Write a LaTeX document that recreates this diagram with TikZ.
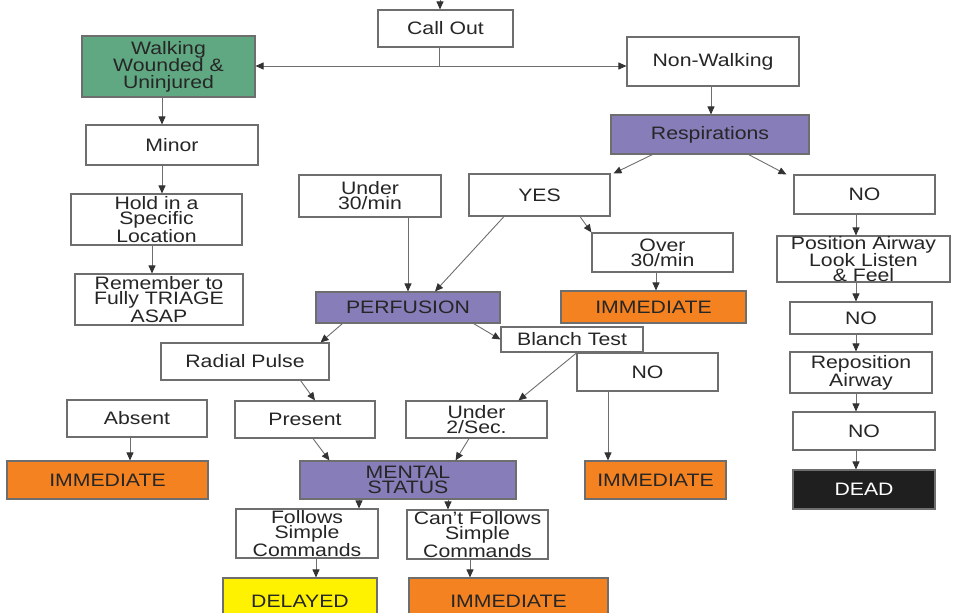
\documentclass[tikz,border=0pt]{standalone}
\usepackage{fontspec}
\setmainfont[FakeStretch=1.18]{Liberation Sans}
\usepackage{xcolor}
\usetikzlibrary{arrows.meta,calc}

\definecolor{walkgreen}{RGB}{96,168,130}
\definecolor{checkpurple}{RGB}{135,125,184}
\definecolor{immorange}{RGB}{245,130,32}
\definecolor{delyellow}{RGB}{255,242,0}
\definecolor{edgegray}{RGB}{110,110,110}

\tikzset{
  box/.style={draw=edgegray, line width=1.1pt, fill=white, inner sep=0pt, align=center,
    text=black!85, font=\fontsize{18}{15}\selectfont},
  greenbox/.style={box, fill=walkgreen, font=\fontsize{18}{17}\selectfont},
  checkbox/.style={box, fill=checkpurple},
  immbox/.style={box, fill=immorange},
  delbox/.style={box, fill=delyellow},
  deadbox/.style={box, fill=black!88, text=white},
  link/.style={draw=edgegray, line width=0.9pt},
  arr/.style={link, -{Triangle[length=8pt,width=7pt,color=black!80]}},
}

\begin{document}
\begin{tikzpicture}[x=1pt,y=-1pt]
\useasboundingbox (0,0) rectangle (954,613);
\clip (0,0) rectangle (954,613);

% top of the tree
\node[box, minimum width=135, minimum height=37] (callout) at (445.5,28.5) {Call Out};
\node[greenbox, minimum width=173, minimum height=61] (walking) at (168.5,66.5) {Walking\\Wounded \&\\Uninjured};
\node[box, minimum width=172, minimum height=49] (nonwalk) at (713,61.5) {Non-Walking};
\node[checkbox, minimum width=198, minimum height=39] (resp) at (710,134.5) {Respirations};

% walking branch
\node[box, minimum width=172, minimum height=40] (minor) at (172,145) {Minor};
\node[box, minimum width=171, minimum height=51] (hold) at (156.5,219.5) {Hold in a\\Specific\\Location};
\node[box, minimum width=168, minimum height=51] (remember) at (159,299.5) {Remember to\\Fully TRIAGE\\ASAP};

% respirations
\node[box, minimum width=142, minimum height=42] (under30) at (370,196) {Under\\30/min};
\node[box, minimum width=141, minimum height=42] (yes) at (539.5,195) {YES};
\node[box, minimum width=141, minimum height=39] (over30) at (662.5,252.5) {Over\\30/min};
\node[immbox, minimum width=185, minimum height=32] (imm1) at (653.5,307) {IMMEDIATE};
\node[box, minimum width=141, minimum height=39] (noresp) at (864.5,194.5) {NO};

% airway column
\node[box, minimum width=173, minimum height=46] (airway) at (863.5,259) {Position Airway\\Look Listen\\\& Feel};
\node[box, minimum width=142, minimum height=32] (noair) at (861,318) {NO};
\node[box, minimum width=142, minimum height=41] (repos) at (861,372.5) {Reposition\\Airway};
\node[box, minimum width=142, minimum height=38] (norepos) at (864,431) {NO};
\node[deadbox, minimum width=142, minimum height=39] (dead) at (864,489.5) {DEAD};

% perfusion
\node[checkbox, minimum width=184, minimum height=31] (perf) at (408,307.5) {PERFUSION};
\node[box, minimum width=168, minimum height=37] (radial) at (245,361.5) {Radial Pulse};
\node[box, minimum width=141, minimum height=38] (noblanch) at (647.5,372) {NO};
\node[box, minimum width=142, minimum height=25] (blanch) at (572,339.5) {Blanch Test};
\node[box, minimum width=141, minimum height=37] (under2) at (476.5,419.5) {Under\\2/Sec.};
\node[immbox, minimum width=141, minimum height=38] (imm2) at (655.5,480) {IMMEDIATE};
\node[box, minimum width=140, minimum height=37] (absent) at (137,418.5) {Absent};
\node[immbox, minimum width=201, minimum height=38] (imm3) at (107.5,480) {IMMEDIATE};
\node[box, minimum width=140, minimum height=37] (present) at (305,419.5) {Present};

% mental status
\node[checkbox, minimum width=216, minimum height=38] (mental) at (408,480) {MENTAL\\STATUS};
\node[box, minimum width=142, minimum height=49] (follows) at (307,533.5) {Follows\\Simple\\Commands};
\node[box, minimum width=141, minimum height=49] (cant) at (477.5,534.5) {Can't Follows\\Simple\\Commands};
\node[delbox, minimum width=154, minimum height=46] (delayed) at (300,601) {DELAYED};
\node[immbox, minimum width=199, minimum height=46] (imm4) at (508.5,601) {IMMEDIATE};

% connectors
\coordinate (entry) at (440,0);
\coordinate (split) at (439,66);
\draw[arr] (entry) -- (entry |- callout.north);
\draw[link] ([xshift=-6.5]callout.south) -- (split);
\draw[arr] (split) -- (walking.east |- split);
\draw[arr] (split) -- (nonwalk.west |- split);
\draw[arr] ([xshift=-2]nonwalk.south) -- ([xshift=-2]nonwalk.south |- resp.north);
\draw[arr] ([xshift=42]resp.south west) -- ([xshift=3]yes.north east);
\draw[arr] ([xshift=-61]resp.south east) -- ([xshift=-7]noresp.north west);

\draw[arr] ([xshift=-6.5]walking.south) -- ([xshift=-6.5]walking.south |- minor.north);
\draw[arr] ([xshift=-10]minor.south) -- ([xshift=-10]minor.south |- hold.north);
\draw[arr] ([xshift=-4.5]hold.south) -- ([xshift=-4.5]hold.south |- remember.north);

\draw[arr] (under30.south -| perf.north) -- (perf.north);
\draw[arr] ([xshift=-35.5]yes.south) -- ([xshift=27]perf.north);
\draw[arr] ([xshift=40.5]yes.south) -- (over30.north west);
\draw[arr] ([xshift=-6.5]over30.south) -- ([xshift=-6.5]over30.south |- imm1.north);

\draw[arr] ([xshift=-8.5]noresp.south) -- ([xshift=-8.5]noresp.south |- airway.north);
\draw[arr] ([xshift=-7.5]airway.south) -- ([xshift=-7.5]airway.south |- noair.north);
\draw[arr] ([xshift=-5]noair.south) -- ([xshift=-5]noair.south |- repos.north);
\draw[arr] ([xshift=-5]repos.south) -- ([xshift=-5]repos.south |- norepos.north);
\draw[arr] ([xshift=-8]norepos.south) -- ([xshift=-8]norepos.south |- dead.north);

\draw[arr] ([xshift=27]perf.south west) -- ([xshift=-9]radial.north east);
\draw[arr] ([xshift=-27]perf.south east) -- (blanch.west);
\draw[arr] ([xshift=5]blanch.south) -- ([xshift=42]under2.north);
\draw[arr] ([xshift=-39.5]noblanch.south) -- ([xshift=-39.5]noblanch.south |- imm2.north);
\draw[arr] ([xshift=-7]absent.south) -- ([xshift=-7]absent.south |- imm3.north);
\draw[arr] ([xshift=-29]radial.south east) -- ([xshift=10]present.north);
\draw[arr] ([xshift=8]present.south) -- ([xshift=30]mental.north west);
\draw[arr] ([xshift=-7.5]under2.south) -- ([xshift=-61]mental.north east);

\draw[arr] ([xshift=-49]mental.south) -- ([xshift=-49]mental.south |- follows.north);
\draw[arr] ([xshift=40]mental.south) -- ([xshift=40]mental.south |- cant.north);
\draw[arr] ([xshift=9]follows.south) -- ([xshift=9]follows.south |- delayed.north);
\draw[arr] ([xshift=-7.5]cant.south) -- ([xshift=-7.5]cant.south |- imm4.north);
\end{tikzpicture}
\end{document}
